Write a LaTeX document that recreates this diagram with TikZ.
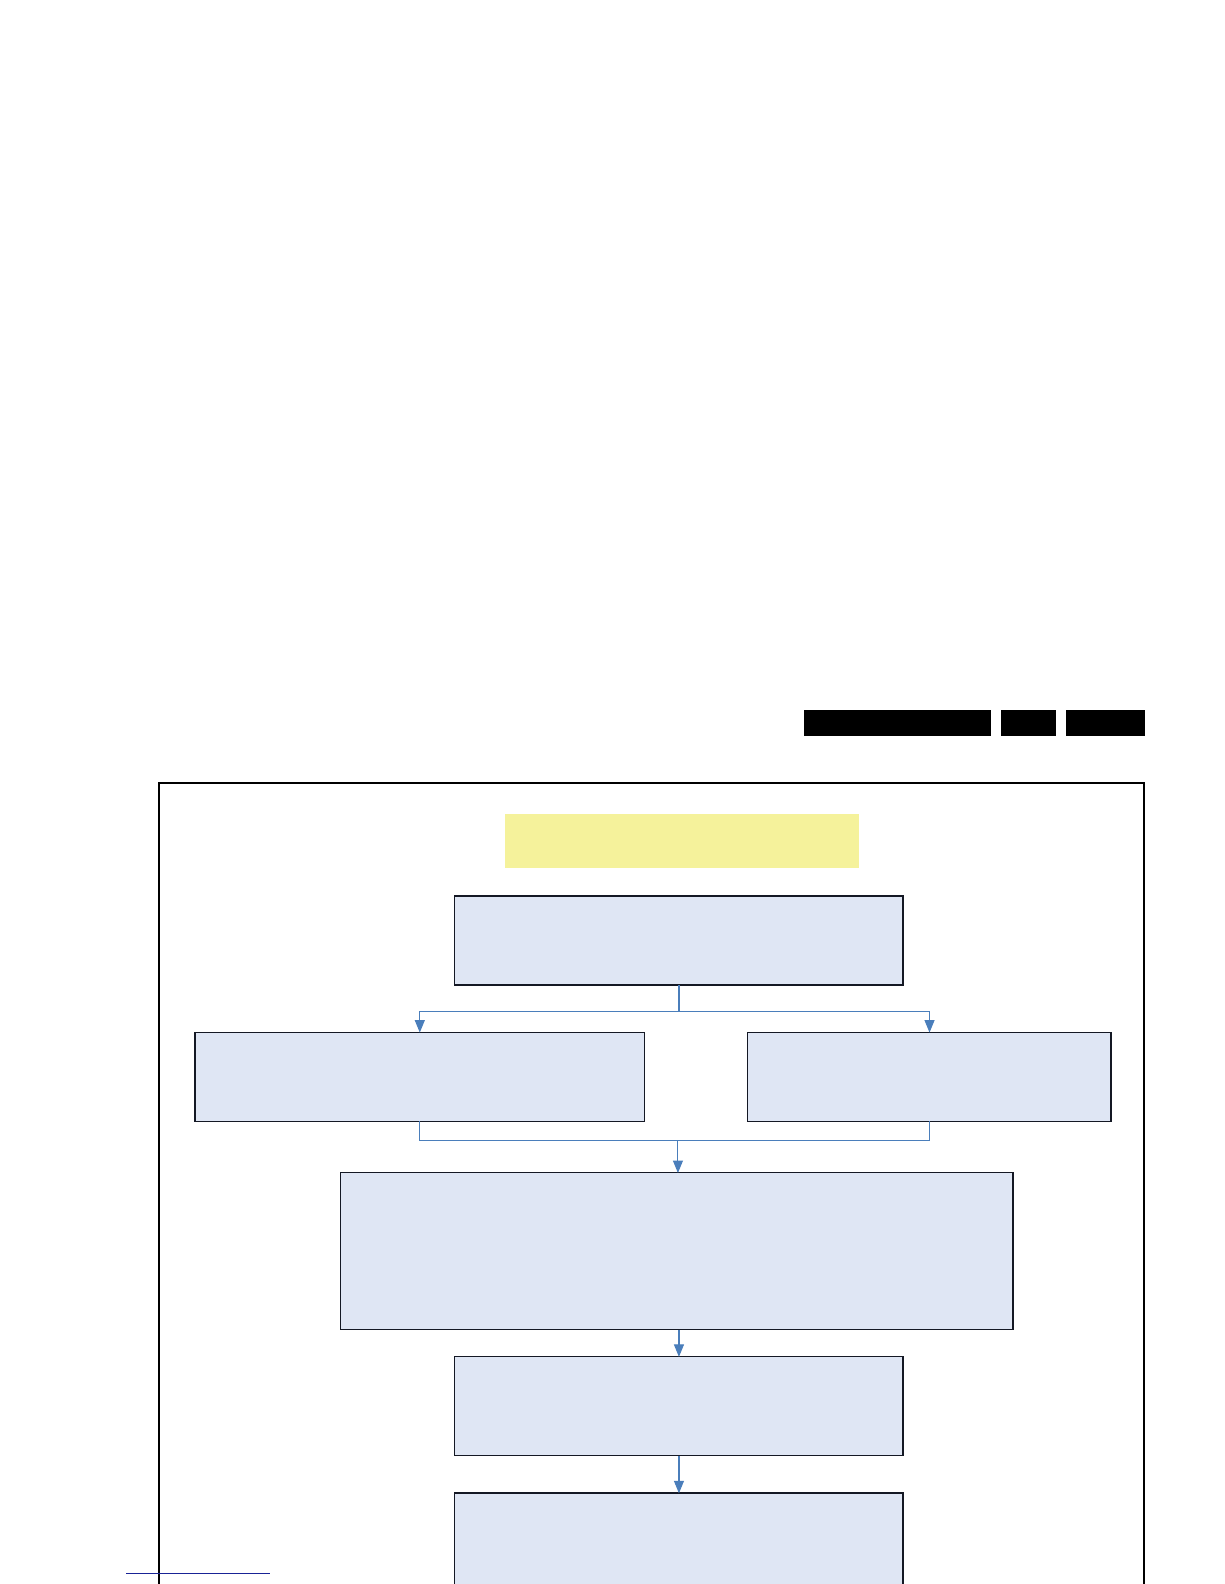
\documentclass[tikz,border=0pt]{standalone}
\usetikzlibrary{arrows.meta}
\definecolor{boxfill}{RGB}{223,230,244}
\definecolor{boxline}{RGB}{20,24,36}
\definecolor{conncol}{RGB}{74,126,187}
\definecolor{notefill}{RGB}{245,242,155}
\definecolor{footblue}{RGB}{25,35,150}
\tikzset{
  box/.style={draw=boxline, line width=1.4pt, fill=boxfill, rectangle, inner sep=0pt, outer sep=0pt},
  note/.style={fill=notefill, rectangle, inner sep=0pt, outer sep=0pt},
  conn/.style={draw=conncol, line width=1.1pt},
  arr/.style={conn, -{Triangle[width=10pt,length=12.5pt]}},
  bar/.style={fill=black}
}
\begin{document}
\begin{tikzpicture}[x=1pt,y=-1pt,scale=1.0101,every node/.append style={transform shape}]
\path[use as bounding box, fill=white] (0,0) rectangle (1211.76,1568.16);
\begin{scope}
\clip (0,0) rectangle (1211.76,1568.16);
% header bars
\fill[bar] (796,703) rectangle (981,729);
\fill[bar] (991,703) rectangle (1045,729);
\fill[bar] (1055,703) rectangle (1134,729);
% outer frame
\draw[line width=2pt] (157,1580) -- (157,775) -- (1133,775) -- (1133,1580);
% footer line
\draw[footblue, line width=1.2pt] (125,1558) -- (267,1558);
% nodes
\node[note, minimum width=350pt, minimum height=53pt] (t) at (675,832.5) {};
\node[box, minimum width=444pt, minimum height=88pt] (b1) at (672,931) {};
\node[box, minimum width=445pt, minimum height=88pt] (b2l) at (415.5,1066) {};
\node[box, minimum width=360pt, minimum height=88pt] (b2r) at (920,1066) {};
\node[box, minimum width=666pt, minimum height=155pt] (b3) at (670,1238.5) {};
\node[box, minimum width=444pt, minimum height=98pt] (b4) at (672,1392) {};
\node[box, minimum width=444pt, minimum height=120pt] (b5) at (672,1538) {};
% connectors
\coordinate (s1) at (672,1001);
\coordinate (m1) at (671,1129);
\draw[conn] (b1.south) -- (s1);
\draw[arr] (s1) -| (b2l.north);
\draw[arr] (s1) -| (b2r.north);
\draw[conn] (b2l.south) |- (m1) -| (b2r.south);
\draw[arr] (m1) -- (m1 |- b3.north);
\draw[arr] (b4.north |- b3.south) -- (b4.north);
\draw[arr] (b4.south) -- (b5.north);
\end{scope}
\end{tikzpicture}
\end{document}
